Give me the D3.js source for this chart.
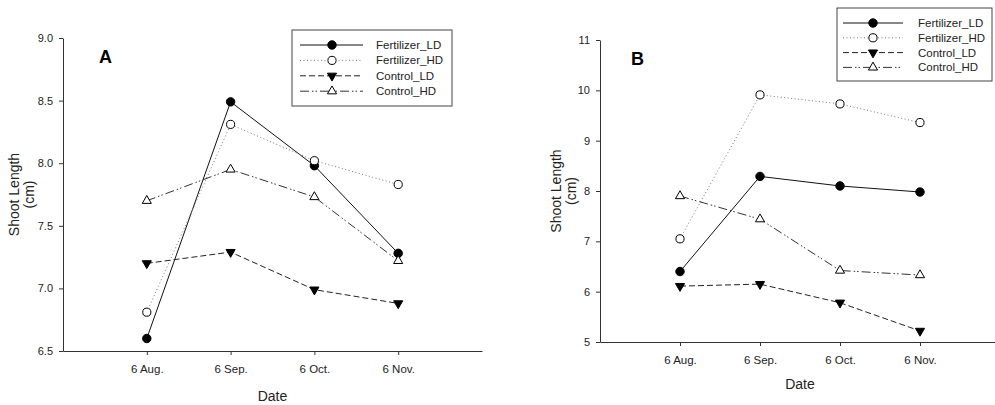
<!DOCTYPE html>
<html>
<head>
<meta charset="utf-8">
<script src="https://cdn.jsdelivr.net/npm/d3@7"></script>
<style>
  body { margin: 0; background: #fff; }
  svg { font-family: "Liberation Sans", Arial, sans-serif; }
  .axis path, .axis line { stroke: #333; }
  .axis text { font-size: 11px; fill: #222; }
  .xaxis text { font-size: 11.5px; }
</style>
</head>
<body>
<div id="chart"></div>
<script>
// categories and series
var dates = ["6 Aug.", "6 Sep.", "6 Oct.", "6 Nov."];
var seriesNames = ["Fertilizer_LD", "Fertilizer_HD", "Control_LD", "Control_HD"];

// panel A values
var aFertLD = [6.60, 8.49, 7.98, 7.28];
var aFertHD = [6.81, 8.31, 8.02, 7.83];
var aCtrlLD = [7.20, 7.29, 6.99, 6.88];
var aCtrlHD = [7.70, 7.95, 7.73, 7.22];
var aTicks = [6.5, 7.0, 7.5, 8.0, 8.5, 9.0];

// panel B values
var bFertLD = [6.40, 8.29, 8.10, 7.98];
var bFertHD = [7.05, 9.91, 9.73, 9.36];
var bCtrlLD = [6.11, 6.15, 5.78, 5.22];
var bCtrlHD = [7.90, 7.44, 6.42, 6.33];
var bTicks = [5, 6, 7, 8, 9, 10, 11];

function init() {
    var w = 995, h = 405;

    var svg = d3.select("#chart")
                .append("svg")
                .attr("width", w)
                .attr("height", h);

    // line style and marker for every series
    var styles = [
        { dash: null, symbol: d3.symbolCircle, size: 56, fill: "#000", rot: 0, stroke: "#111" },
        { dash: "1,2.5", symbol: d3.symbolCircle, size: 52, fill: "#fff", rot: 0, stroke: "#777" },
        { dash: "6,3", symbol: d3.symbolTriangle, size: 36, fill: "#000", rot: 180, stroke: "#222" },
        { dash: "9,3,1.5,2,1.5,3", symbol: d3.symbolTriangle, size: 36, fill: "#fff", rot: 0, stroke: "#333" }
    ];

    // draw one panel
    function panel(cfg) {
        var x = d3.scaleLinear().domain([0, 5]).range([cfg.left, cfg.right]);
        var y = d3.scaleLinear().domain(cfg.domain).range([cfg.bottom, cfg.top]);

        var xAxis = d3.axisBottom(x)
                      .tickValues([1, 2, 3, 4])
                      .tickFormat(function(i) { return dates[i - 1]; })
                      .tickSize(4)
                      .tickPadding(10)
                      .tickSizeOuter(0);

        var yAxis = d3.axisLeft(y)
                      .tickValues(cfg.ticks)
                      .tickFormat(d3.format(cfg.fmt))
                      .tickSize(4)
                      .tickPadding(6)
                      .tickSizeOuter(0);

        svg.append("g")
           .attr("class", "axis xaxis")
           .attr("transform", "translate(0," + cfg.bottom + ")")
           .call(xAxis);

        svg.append("g")
           .attr("class", "axis")
           .attr("transform", "translate(" + cfg.left + ",0)")
           .call(yAxis);

        // axis titles
        var ly = svg.append("text")
                    .attr("transform", "translate(" + cfg.yLabelX + "," + (cfg.top + cfg.bottom) / 2 + ") rotate(-90)")
                    .attr("text-anchor", "middle")
                    .style("font-size", "14px")
                    .attr("fill", "#222");
        ly.append("tspan").attr("x", 0).attr("dy", 0).text("Shoot Length");
        ly.append("tspan").attr("x", 0).attr("dy", 15).text("(cm)");

        svg.append("text")
           .attr("x", (cfg.left + cfg.right) / 2)
           .attr("y", cfg.bottom + cfg.dateDy)
           .attr("text-anchor", "middle")
           .style("font-size", "14px")
           .attr("fill", "#222")
           .text("Date");

        svg.append("text")
           .attr("x", cfg.letterX)
           .attr("y", cfg.letterY)
           .style("font-size", "18px")
           .style("font-weight", "bold")
           .text(cfg.letter);

        var line = d3.line()
                     .x(function(d, i) { return x(i + 1); })
                     .y(function(d) { return y(d); });

        cfg.series.forEach(function(vals, k) {
            var st = styles[k];
            svg.append("path")
               .datum(vals)
               .attr("d", line)
               .attr("fill", "none")
               .attr("stroke", st.stroke)
               .attr("stroke-width", 1)
               .attr("stroke-dasharray", st.dash);
        });

        cfg.series.forEach(function(vals, k) {
            var st = styles[k];
            svg.selectAll(null)
               .data(vals)
               .enter()
               .append("path")
               .attr("d", d3.symbol().type(st.symbol).size(st.size))
               .attr("transform", function(d, i) {
                   return "translate(" + x(i + 1) + "," + y(d) + ") rotate(" + st.rot + ")";
               })
               .attr("fill", st.fill)
               .attr("stroke", "#000")
               .attr("stroke-width", 1);
        });

        // legend box
        var lg = cfg.legend;
        svg.append("rect")
           .attr("x", lg.x)
           .attr("y", lg.y)
           .attr("width", lg.w)
           .attr("height", lg.h)
           .attr("fill", "#fff")
           .attr("stroke", "#444");

        seriesNames.forEach(function(name, k) {
            var st = styles[k];
            var ry = lg.rowY + k * lg.step;
            svg.append("line")
               .attr("x1", lg.lineX1).attr("x2", lg.lineX2)
               .attr("y1", ry).attr("y2", ry)
               .attr("stroke", st.stroke)
               .attr("stroke-dasharray", st.dash);
            svg.append("path")
               .attr("d", d3.symbol().type(st.symbol).size(st.size))
               .attr("transform", "translate(" + lg.symX + "," + ry + ") rotate(" + st.rot + ")")
               .attr("fill", st.fill)
               .attr("stroke", "#000");
            svg.append("text")
               .attr("x", lg.textX)
               .attr("y", ry + 4)
               .style("font-size", "11.5px")
               .attr("fill", "#222")
               .text(name);
        });
    }

    panel({
        left: 63, right: 482, top: 38, bottom: 351,
        domain: [6.5, 9.0], ticks: aTicks, fmt: ".1f",
        series: [aFertLD, aFertHD, aCtrlLD, aCtrlHD],
        yLabelX: 19, dateDy: 50, letter: "A", letterX: 99, letterY: 63,
        legend: { x: 292, y: 30, w: 160, h: 76, rowY: 45, step: 15.4,
                  lineX1: 300, lineX2: 363, symX: 332, textX: 376 }
    });

    panel({
        left: 600, right: 1000, top: 40, bottom: 342,
        domain: [5, 11], ticks: bTicks, fmt: "d",
        series: [bFertLD, bFertHD, bCtrlLD, bCtrlHD],
        yLabelX: 561, dateDy: 47, letter: "B", letterX: 631, letterY: 65,
        legend: { x: 837, y: 8, w: 155, h: 73, rowY: 23, step: 14.8,
                  lineX1: 843, lineX2: 903, symX: 873, textX: 918 }
    });
}

window.onload = init;
</script>
</body>
</html>
